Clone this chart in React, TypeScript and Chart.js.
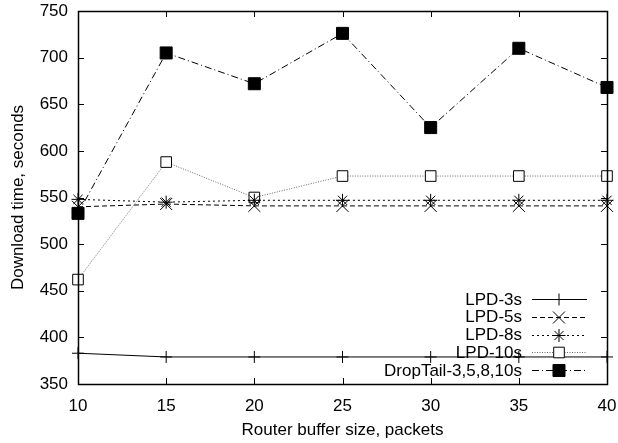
import React, { useEffect, useRef } from 'react';
import { Chart, registerables } from 'chart.js';

Chart.register(...registerables);

const xValues = [10, 15, 20, 25, 30, 35, 40];
const lpd3s = [383, 379, 379, 379, 379, 379, 379];
const lpd5s = [540, 543, 541, 541, 541, 541, 541];
const lpd8s = [548, 545, 547, 547, 547, 547, 547];
const lpd10s = [462, 588, 550, 573, 573, 573, 573];
const dropTail = [533, 705, 672, 726, 625, 710, 668];
const seriesLabels = ['LPD-3s', 'LPD-5s', 'LPD-8s', 'LPD-10s', 'DropTail-3,5,8,10s'];
const xTickValues = [10, 15, 20, 25, 30, 35, 40];
const yTickValues = [350, 400, 450, 500, 550, 600, 650, 700, 750];

const FONT = '"Liberation Sans", Arial, Helvetica, sans-serif';

type Style = {
  shape: string;
  radius: number;
  fill: string;
  stroke: string;
  dash: number[];
  lineColor: string;
};

const styles: Style[] = [
  { shape: 'cross', radius: 6, fill: '#000', stroke: '#000', dash: [], lineColor: '#000' },
  { shape: 'crossRot', radius: 8.5, fill: '#000', stroke: '#000', dash: [5, 3], lineColor: '#000' },
  { shape: 'star', radius: 6.5, fill: '#000', stroke: '#000', dash: [2, 3], lineColor: '#000' },
  { shape: 'rect', radius: 7.5, fill: '#fff', stroke: '#000', dash: [1, 1.5], lineColor: '#666' },
  { shape: 'rect', radius: 8.5, fill: '#000', stroke: '#000', dash: [7, 3, 1, 3], lineColor: '#000' },
];

function drawMarker(ctx: CanvasRenderingContext2D, s: Style, x: number, y: number) {
  ctx.save();
  ctx.setLineDash([]);
  ctx.lineWidth = 1;
  ctx.strokeStyle = s.stroke;
  ctx.fillStyle = s.fill;
  const r = s.radius;
  ctx.beginPath();
  if (s.shape === 'rect') {
    const h = Math.SQRT1_2 * r;
    ctx.rect(x - h, y - h, 2 * h, 2 * h);
    ctx.fill();
    ctx.stroke();
  } else {
    if (s.shape === 'cross' || s.shape === 'star') {
      ctx.moveTo(x - r, y);
      ctx.lineTo(x + r, y);
      ctx.moveTo(x, y - r);
      ctx.lineTo(x, y + r);
    }
    if (s.shape === 'crossRot' || s.shape === 'star') {
      const d = Math.SQRT1_2 * r;
      ctx.moveTo(x - d, y - d);
      ctx.lineTo(x + d, y + d);
      ctx.moveTo(x - d, y + d);
      ctx.lineTo(x + d, y - d);
    }
    ctx.stroke();
  }
  ctx.restore();
}

const framePlugin = {
  id: 'gnuplotFrame',
  afterDatasetsDraw(chart: any) {
    const { ctx, chartArea } = chart;
    const { left, right, top, bottom } = chartArea;
    const xs = chart.scales.x;
    const ys = chart.scales.y;
    ctx.save();
    ctx.strokeStyle = '#000';
    ctx.lineWidth = 1;
    ctx.setLineDash([]);
    ctx.beginPath();
    const tl = 6;
    xTickValues.forEach((v) => {
      const px = Math.round(xs.getPixelForValue(v)) + 0.5;
      ctx.moveTo(px, bottom);
      ctx.lineTo(px, bottom - tl);
      ctx.moveTo(px, top);
      ctx.lineTo(px, top + tl);
    });
    yTickValues.forEach((v) => {
      const py = Math.round(ys.getPixelForValue(v)) + 0.5;
      ctx.moveTo(left, py);
      ctx.lineTo(left + tl, py);
      ctx.moveTo(right, py);
      ctx.lineTo(right - tl, py);
    });
    ctx.stroke();
    ctx.lineWidth = 1.5;
    ctx.strokeRect(Math.round(left) + 0.5, Math.round(top) + 0.5, Math.round(right - left), Math.round(bottom - top));
    ctx.restore();

    // legend
    ctx.save();
    ctx.font = `17px ${FONT}`;
    ctx.fillStyle = '#000';
    ctx.textAlign = 'right';
    ctx.textBaseline = 'middle';
    seriesLabels.forEach((label, i) => {
      const s = styles[i];
      const y = bottom - 85 + i * 17.75;
      ctx.fillText(label, right - 85, y + 1);
      ctx.save();
      ctx.strokeStyle = s.lineColor;
      ctx.lineWidth = 1;
      ctx.setLineDash(s.dash);
      ctx.beginPath();
      ctx.moveTo(right - 75, Math.round(y) + 0.5);
      ctx.lineTo(right - 20, Math.round(y) + 0.5);
      ctx.stroke();
      ctx.restore();
      drawMarker(ctx, s, right - 48, Math.round(y) + 0.5);
    });
    ctx.restore();
  },
};

const seriesValues = [lpd3s, lpd5s, lpd8s, lpd10s, dropTail];

function zeroPadding(scale: any) {
  scale.paddingTop = 0;
  scale.paddingBottom = 0;
  scale.paddingLeft = 0;
  scale.paddingRight = 0;
}

export default function App() {
  const canvasRef = useRef<HTMLCanvasElement | null>(null);

  useEffect(() => {
    if (!canvasRef.current) return;
    const datasets = seriesLabels.map((label, i) => {
      const s = styles[i];
      return {
        label,
        data: xValues.map((x, j) => ({ x, y: seriesValues[i][j] })),
        borderColor: s.lineColor,
        borderWidth: 1,
        borderDash: s.dash,
        pointStyle: s.shape,
        pointRadius: s.radius,
        pointHoverRadius: s.radius,
        pointBorderWidth: 1,
        pointBorderColor: s.stroke,
        pointBackgroundColor: s.fill,
        backgroundColor: s.fill,
        tension: 0,
        fill: false,
        clip: false,
      };
    });
    const chart = new Chart(canvasRef.current, {
      type: 'line',
      data: { datasets } as any,
      plugins: [framePlugin],
      options: {
        animation: false,
        responsive: false,
        devicePixelRatio: 1,
        layout: { padding: { left: 0, top: 11, right: 11, bottom: 0 } },
        plugins: { legend: { display: false }, tooltip: { enabled: false } },
        scales: {
          x: {
            type: 'linear',
            min: 10,
            max: 40,
            grid: { display: false, drawTicks: false },
            border: { display: false },
            ticks: {
              stepSize: 5,
              padding: 12,
              color: '#000',
              font: { family: FONT, size: 17 },
              maxRotation: 0,
            },
            title: {
              display: true,
              text: 'Router buffer size, packets',
              color: '#000',
              font: { family: FONT, size: 17 },
              padding: { top: 0, bottom: 2 },
            },
            afterFit: (scale: any) => {
              scale.height = 59;
              zeroPadding(scale);
            },
          },
          y: {
            type: 'linear',
            min: 350,
            max: 750,
            grid: { display: false, drawTicks: false },
            border: { display: false },
            ticks: {
              stepSize: 50,
              padding: 10,
              color: '#000',
              font: { family: FONT, size: 17 },
            },
            title: {
              display: true,
              text: 'Download time, seconds',
              color: '#000',
              font: { family: FONT, size: 17 },
              padding: { top: 8, bottom: 0 },
            },
            afterFit: (scale: any) => {
              scale.width = 78;
              zeroPadding(scale);
            },
          },
        },
      } as any,
    });
    return () => chart.destroy();
  }, []);

  return (
    <div style={{ position: 'absolute', left: 0, top: 0, width: 618, height: 443, background: '#fff' }}>
      <canvas ref={canvasRef} width={618} height={443} style={{ display: 'block' }} />
    </div>
  );
}
